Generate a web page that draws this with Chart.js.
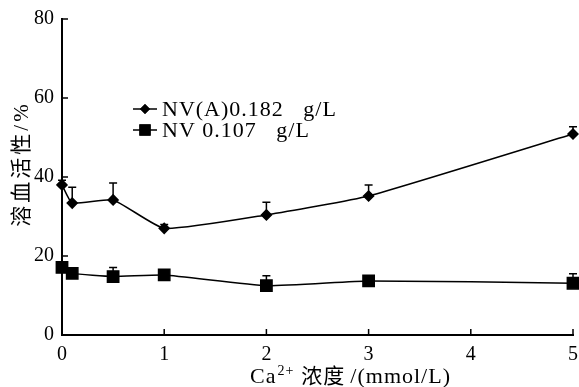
<!DOCTYPE html>
<html>
<head>
<meta charset="utf-8">
<script src="https://cdn.jsdelivr.net/npm/chart.js@4/dist/chart.umd.min.js"></script>
<style>
  html, body { margin: 0; padding: 0; background: #fff; }
  #wrap { width: 579px; height: 387px; }
</style>
</head>
<body>
<div id="wrap"><canvas id="chart" width="579" height="387"></canvas></div>
<script>
// values
const concentrations = [0, 0.1, 0.5, 1, 2, 3, 5];
const nvA = [38.0, 33.4, 34.2, 27.0, 30.4, 35.2, 50.9];
const nvAErr = [1.2, 4.0, 4.3, 1.0, 3.2, 2.8, 1.8];
const nvB = [17.1, 15.6, 14.8, 15.2, 12.5, 13.7, 13.1];
const nvBErr = [0, 0, 2.3, 0.5, 2.5, 0, 2.4];
const xTicks = [0, 1, 2, 3, 4, 5];
const yTicks = [0, 20, 40, 60, 80];
const seriesLabels = ['NV(A)0.182   g/L', 'NV 0.107   g/L'];
const yTitle = '溶血活性/%';

const serif = '"Liberation Serif", "Times New Roman", serif';
const cjk = '"Liberation Serif", "Noto Sans CJK SC", serif';

function pts(ys) { return concentrations.map((x, i) => ({ x: x, y: ys[i] })); }

// upward error bars with caps
const errorBars = {
  id: 'errorBars',
  afterDatasetsDraw(chart) {
    const { ctx, scales: { x, y } } = chart;
    const errs = [nvAErr, nvBErr];
    ctx.save();
    ctx.strokeStyle = '#000';
    ctx.lineWidth = 1.5;
    chart.data.datasets.forEach((ds, di) => {
      ds.data.forEach((p, i) => {
        const e = errs[di][i];
        if (!e) return;
        const px = x.getPixelForValue(p.x);
        const py = y.getPixelForValue(p.y);
        const top = y.getPixelForValue(p.y + e);
        ctx.beginPath();
        ctx.moveTo(px, py);
        ctx.lineTo(px, top);
        ctx.moveTo(px - 4, top);
        ctx.lineTo(px + 4, top);
        ctx.stroke();
      });
    });
    ctx.restore();
  }
};

// inward tick marks on both axes, plus both axis titles
const axisExtras = {
  id: 'axisExtras',
  afterDraw(chart) {
    const { ctx, chartArea: a, scales: { x, y } } = chart;
    ctx.save();
    ctx.strokeStyle = '#000';
    ctx.lineWidth = 1.5;
    ctx.beginPath();
    xTicks.forEach(v => {
      const px = x.getPixelForValue(v);
      ctx.moveTo(px, a.bottom);
      ctx.lineTo(px, a.bottom - 6);
    });
    yTicks.forEach(v => {
      const py = y.getPixelForValue(v);
      ctx.moveTo(a.left, py);
      ctx.lineTo(a.left + 6, py);
    });
    ctx.stroke();

    // "Ca2+ 浓度 /(mmol/L)"
    ctx.fillStyle = '#000';
    ctx.textBaseline = 'alphabetic';
    ctx.letterSpacing = '1px';
    let tx = 250;
    const base = 383;
    ctx.font = '22px ' + serif;
    ctx.fillText('Ca', tx, base);
    tx += ctx.measureText('Ca').width + 1;
    ctx.font = '14px ' + serif;
    ctx.fillText('2+', tx, base - 8);
    tx += ctx.measureText('2+').width + 7;
    ctx.font = '21px "Noto Sans CJK SC", sans-serif';
    ctx.fillText('浓度', tx, base);
    tx += ctx.measureText('浓度').width + 5;
    ctx.font = '22px ' + serif;
    ctx.fillText('/(mmol/L)', tx, base);

    // rotated y title
    ctx.translate(22, 164);
    ctx.rotate(-Math.PI / 2);
    ctx.font = '21px ' + cjk;
    ctx.letterSpacing = '3px';
    ctx.textAlign = 'center';
    ctx.textBaseline = 'middle';
    ctx.fillText(yTitle, 0, 0);
    ctx.restore();
  }
};

// legend drawn as line + marker + text
const lineLegend = {
  id: 'lineLegend',
  afterDraw(chart) {
    const { ctx } = chart;
    const rows = [{ y: 109, style: 'rectRot', r: 5 }, { y: 130, style: 'rect', r: 8 }];
    ctx.save();
    chart.data.datasets.forEach((ds, i) => {
      const row = rows[i];
      ctx.strokeStyle = '#000';
      ctx.lineWidth = 1.5;
      ctx.beginPath();
      ctx.moveTo(133, row.y);
      ctx.lineTo(157, row.y);
      ctx.stroke();
      ctx.fillStyle = '#000';
      Chart.helpers.drawPoint(ctx, { pointStyle: row.style, radius: row.r, borderWidth: 0 }, 145, row.y);
      ctx.fill();
      ctx.font = '22px ' + serif;
      ctx.letterSpacing = '1px';
      ctx.textBaseline = 'middle';
      ctx.fillText(ds.label, 162, row.y + 1);
    });
    ctx.restore();
  }
};

new Chart(document.getElementById('chart'), {
  type: 'line',
  data: {
    datasets: [
      {
        label: seriesLabels[0],
        data: pts(nvA),
        borderColor: '#000',
        backgroundColor: '#000',
        borderWidth: 1.5,
        pointStyle: 'rectRot',
        pointRadius: 5,
        tension: 0.15,
        clip: false
      },
      {
        label: seriesLabels[1],
        data: pts(nvB),
        borderColor: '#000',
        backgroundColor: '#000',
        borderWidth: 1.5,
        pointStyle: 'rect',
        pointRadius: 8,
        tension: 0.15,
        clip: false
      }
    ]
  },
  options: {
    responsive: false,
    animation: false,
    layout: { autoPadding: false, padding: { top: 19, right: 6, left: 0, bottom: 0 } },
    plugins: { legend: { display: false }, tooltip: { enabled: false } },
    scales: {
      x: {
        type: 'linear',
        min: 0,
        max: 5,
        afterBuildTicks: s => { s.ticks = xTicks.map(v => ({ value: v })); },
        afterFit: s => { s.height = 52; s.paddingLeft = 0; s.paddingRight = 0; },
        grid: { display: false },
        border: { display: true, color: '#000', width: 2 },
        ticks: { color: '#000', font: { family: serif, size: 20 }, padding: 0, maxRotation: 0 }
      },
      y: {
        min: 0,
        max: 80,
        afterBuildTicks: s => { s.ticks = yTicks.map(v => ({ value: v })); },
        afterFit: s => { s.width = 62; s.paddingTop = 0; s.paddingBottom = 0; },
        grid: { display: false },
        border: { display: true, color: '#000', width: 2 },
        ticks: { color: '#000', font: { family: serif, size: 20 }, padding: 0 }
      }
    }
  },
  plugins: [errorBars, axisExtras, lineLegend]
});
</script>
</body>
</html>
